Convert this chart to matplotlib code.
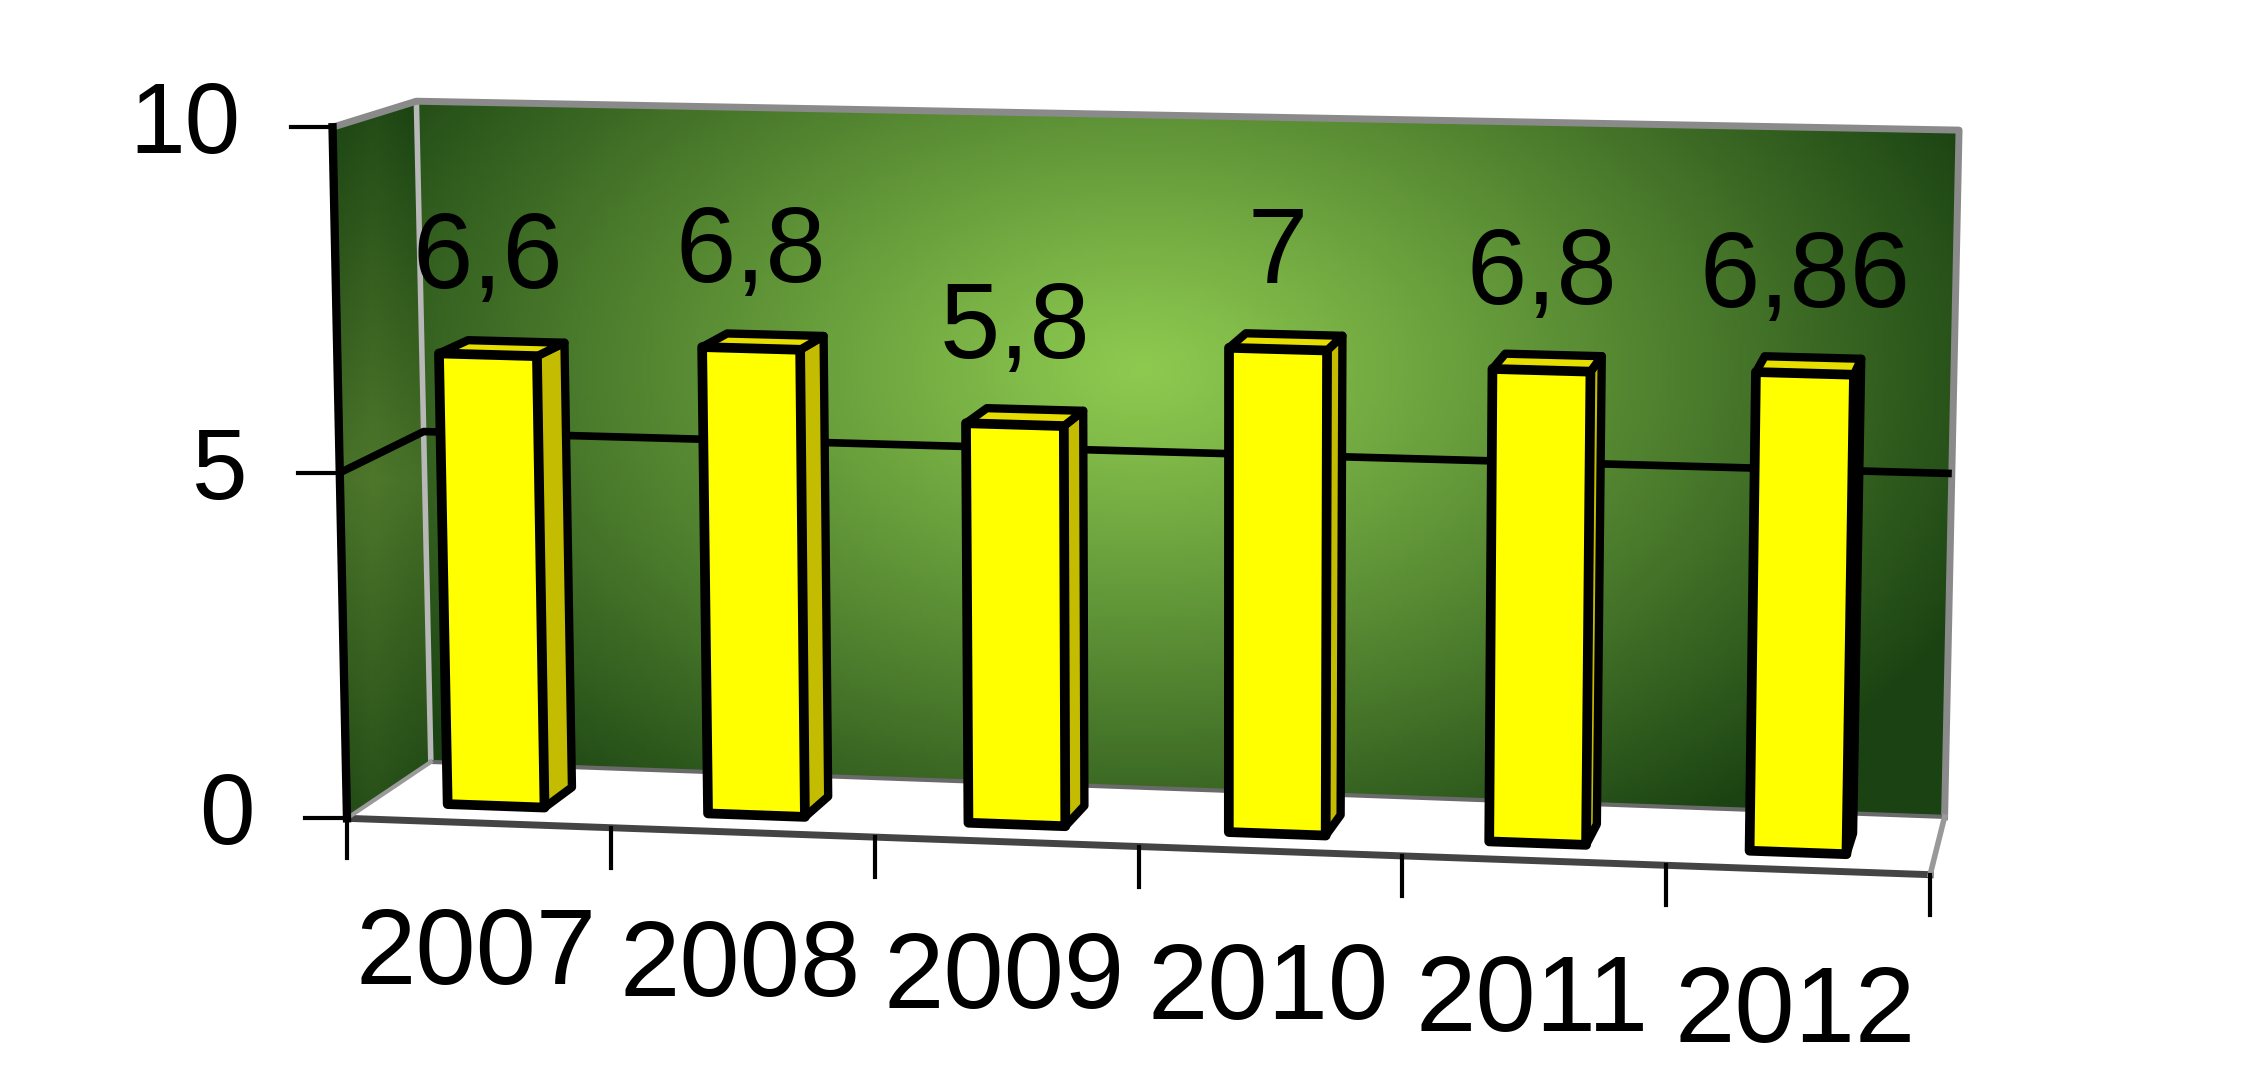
import numpy as np
import matplotlib
matplotlib.use("Agg")
import matplotlib.pyplot as plt
from matplotlib.patches import Polygon

# ---------------- data ----------------
years = ["2007", "2008", "2009", "2010", "2011", "2012"]
values = [6.6, 6.8, 5.8, 7.0, 6.8, 6.86]
value_labels = ["6,6", "6,8", "5,8", "7", "6,8", "6,86"]
y_ticks = [0, 5, 10]
y_max = 10

# ---------------- figure ----------------
W, H = 2267, 1079
fig = plt.figure(figsize=(W / 100, H / 100), dpi=100)
ax = fig.add_axes([0, 0, 1, 1])
ax.set_xlim(0, W)
ax.set_ylim(H, 0)
ax.axis("off")
plt.rcParams['font.family'] = ['Liberation Sans', 'DejaVu Sans']

S = W / 1568.0
# pseudo-3D frame: front plane (depth 0) and back plane (depth 1)
F00, F01, F10, F11 = (240, 566), (230, 88), (1335, 605), (1343, 117)
B00, B01, B10, B11 = (298, 527), (288, 70), (1345, 565), (1355, 90)


def plane(c00, c01, c10, c11, u, s):
    c00, c01, c10, c11 = map(np.array, (c00, c01, c10, c11))
    return ((1 - u) * (1 - s) * c00 + u * (1 - s) * c10
            + (1 - u) * s * c01 + u * s * c11)


def proj(u, v, w):
    s = v / y_max
    p = (1 - w) * plane(F00, F01, F10, F11, u, s) + w * plane(B00, B01, B10, B11, u, s)
    return p * S


def poly(pts, **kw):
    p = Polygon(np.array(pts), closed=True, **kw)
    ax.add_patch(p)
    return p


n = len(years)

# ---------------- back wall with radial gradient ----------------
wall = [proj(0, 0, 1), proj(1, 0, 1), proj(1, y_max, 1), proj(0, y_max, 1)]
wall_p = poly(wall, facecolor="none", edgecolor="none")
xs = np.linspace(0, W, 600)
ys = np.linspace(0, H, 300)
X, Y = np.meshgrid(xs, ys)
cx, cy = 1140, 370
t = np.sqrt(((X - cx) / 920) ** 2 + ((Y - cy) / 570) ** 2)
t = np.clip(t, 0, 1) ** 1.1
light = np.array([142, 202, 80]) / 255
dark = np.array([26, 66, 18]) / 255
img = light[None, None, :] * (1 - t[..., None]) + dark[None, None, :] * t[..., None]
im = ax.imshow(img, extent=(0, W, H, 0), origin="upper", zorder=1, aspect="auto")
im.set_clip_path(wall_p)

# ---------------- side wall ----------------
side = [proj(0, 0, 0), proj(0, 0, 1), proj(0, y_max, 1), proj(0, y_max, 0)]
side_p = poly(side, facecolor="none", edgecolor="none")
t2 = np.abs((Y - 480) / 420)
t2 = np.clip(t2, 0, 1)
xs_f = np.clip((X - 330) / 85, 0, 1)
t2 = np.clip(0.3 + 0.65 * t2 + 0.2 * np.abs(xs_f - 0.5), 0, 1)
mid = np.array([100, 142, 54]) / 255
img2 = mid[None, None, :] * (1 - t2[..., None]) + dark[None, None, :] * t2[..., None]
im2 = ax.imshow(img2, extent=(0, W, H, 0), origin="upper", zorder=1.1, aspect="auto")
im2.set_clip_path(side_p)

# corner / top edges of walls
ax.plot(*np.array([proj(0, 0, 1), proj(0, y_max, 1)]).T, color="#b8b8b8", lw=4, zorder=1.5)
ax.plot(*np.array([proj(0, y_max, 0), proj(0, y_max, 1), proj(1, y_max, 1), proj(1, 0, 1)]).T,
        color="#8a8a8a", lw=5, zorder=1.5)

# ---------------- floor ----------------
floor = [proj(0, 0, 0), proj(1, 0, 0), proj(1, 0, 1), proj(0, 0, 1)]
poly(floor, facecolor="white", edgecolor="none", zorder=2)
ax.plot(*np.array([proj(0, 0, 1), proj(1, 0, 1)]).T, color="#6a6a6a", lw=3, zorder=2.1)
ax.plot(*np.array([proj(0, 0, 0), proj(1, 0, 0)]).T, color="#444444", lw=5, zorder=2.1)
ax.plot(*np.array([proj(1, 0, 0), proj(1, 0, 1)]).T, color="#999999", lw=4, zorder=2.1)
ax.plot(*np.array([proj(0, 0, 0), proj(0, 0, 1)]).T, color="#9a9a9a", lw=3, zorder=2.1)

# ---------------- gridline at 5 ----------------
for g in y_ticks[1:-1]:
    ax.plot(*np.array([proj(0, g, 0), proj(0, g, 1), proj(1, g, 1)]).T,
            color="black", lw=5.5, zorder=2.5, solid_capstyle="butt")

# left axis line (front edge of side wall)
ax.plot(*np.array([proj(0, 0, 0), proj(0, y_max, 0)]).T, color="black", lw=6, zorder=3)

# y ticks and labels
for g in y_ticks:
    p = proj(0, g, 0)
    ax.plot([p[0] - 42, p[0]], [p[1], p[1]], color="black", lw=3, zorder=3)
    ax.text(p[0] - 92, p[1], str(g), ha="right", va="center", fontsize=72, zorder=4)

# x ticks
for k in range(n + 1):
    p = proj(k / n, 0, 0)
    ax.plot([p[0], p[0]], [p[1], p[1] + 40], color="black", lw=3, zorder=3)

# ---------------- bars ----------------
hw = 0.031
w0, w1 = 0.30, 0.66
front_c = "#ffff00"
side_c = "#c4bc00"
top_c = "#e6de00"
for i, (v, lab, yr) in enumerate(zip(values, value_labels, years)):
    uc = (i + 0.5) / n - 0.004
    ua, ub = uc - hw, uc + hw
    # side face
    poly([proj(ub, 0, w0), proj(ub, 0, w1), proj(ub, v, w1), proj(ub, v, w0)],
         facecolor=side_c, edgecolor="black", lw=6, joinstyle="round", zorder=5)
    # top face
    poly([proj(ua, v, w0), proj(ub, v, w0), proj(ub, v, w1), proj(ua, v, w1)],
         facecolor=top_c, edgecolor="black", lw=6, joinstyle="round", zorder=5)
    # front face
    poly([proj(ua, 0, w0), proj(ub, 0, w0), proj(ub, v, w0), proj(ua, v, w0)],
         facecolor=front_c, edgecolor="black", lw=7, joinstyle="round", zorder=6)
    # value label
    p = proj(uc, v, w0)
    ax.annotate(lab, xy=p, xytext=(0, 68), textcoords="offset points",
                ha="center", va="center", fontsize=78, zorder=7)
    # category label
    q = proj((i + 0.5) / n, 0, 0)
    ax.annotate(yr, xy=q, xytext=(-2, -96 - 1.6 * i), textcoords="offset points",
                ha="center", va="center", fontsize=78, zorder=7)

fig.savefig("out.png", dpi=100, facecolor="white")
